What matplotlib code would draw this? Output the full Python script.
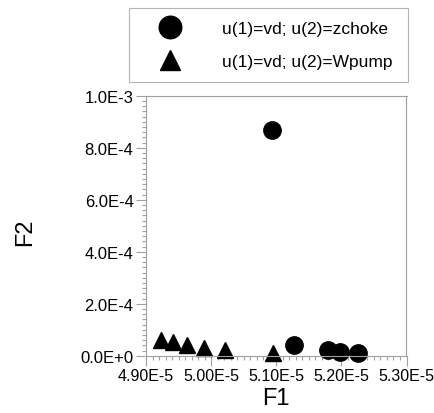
import matplotlib
matplotlib.use("Agg")
import matplotlib.pyplot as plt
from matplotlib.ticker import MultipleLocator, FuncFormatter

plt.rcParams["font.family"] = ["Liberation Sans", "DejaVu Sans"]

# u(1)=vd; u(2)=zchoke
zchoke_f1 = [5.094e-5, 5.127e-5, 5.179e-5, 5.198e-5, 5.225e-5]
zchoke_f2 = [8.69e-4, 4.2e-5, 2.3e-5, 1.5e-5, 9.0e-6]
# u(1)=vd; u(2)=Wpump
wpump_f1 = [4.923e-5, 4.942e-5, 4.963e-5, 4.989e-5, 5.022e-5, 5.095e-5]
wpump_f2 = [6.2e-5, 5.3e-5, 4.3e-5, 3.1e-5, 2.1e-5, 1.0e-5]

GRID = "#a0a0a0"


def sci(fmt):
    def f(v, pos):
        s = fmt % v
        mant, exp = s.split("E")
        return f"{mant}E{exp[0]}{int(exp[1:])}"
    return FuncFormatter(f)


fig = plt.figure(figsize=(4.35, 4.14), dpi=100)
ax = fig.add_axes([146 / 435, 1 - 356.7 / 414, 260.5 / 435, 260 / 414])

ax.plot(zchoke_f1, zchoke_f2, "o", color="black", ms=12.5, ls="none",
        label="u(1)=vd; u(2)=zchoke", clip_on=False)
ax.plot(wpump_f1, wpump_f2, "^", color="black", ms=11.5, ls="none",
        label="u(1)=vd; u(2)=Wpump", clip_on=False)

ax.set_xlim(4.9e-5, 5.3e-5)
ax.set_ylim(0, 1.0e-3)
ax.xaxis.set_major_locator(MultipleLocator(1e-6))
ax.xaxis.set_minor_locator(MultipleLocator(1e-7))
ax.yaxis.set_major_locator(MultipleLocator(2e-4))
ax.yaxis.set_minor_locator(MultipleLocator(2e-5))
ax.xaxis.set_major_formatter(sci("%.2E"))
ax.yaxis.set_major_formatter(sci("%.1E"))
ax.tick_params(which="major", direction="out", length=7, width=0.8,
               color=GRID, pad=2)
ax.tick_params(axis="x", labelsize=11.5)
ax.tick_params(axis="y", labelsize=12)
ax.tick_params(which="minor", direction="out", length=3, width=0.8, color=GRID)
for sp in ax.spines.values():
    sp.set_color(GRID)
    sp.set_linewidth(0.8)

ax.set_xlabel("F1", fontsize=17, labelpad=3)
ax.set_ylabel("F2", fontsize=17)
ax.yaxis.set_label_coords(-0.42, 0.48)

leg = fig.legend(loc="upper left", bbox_to_anchor=(129 / 435, 1 - 85 / 414, 279 / 435, 76 / 414),
                 mode="expand", frameon=True, fancybox=False, fontsize=12.5,
                 markerscale=1.3, handletextpad=1.35, borderpad=0.72, labelspacing=1.05,
                 borderaxespad=0, handlelength=3.3)
leg.get_frame().set_edgecolor(GRID)
leg.get_frame().set_linewidth(0.8)

fig.savefig("out.png", dpi=100)
